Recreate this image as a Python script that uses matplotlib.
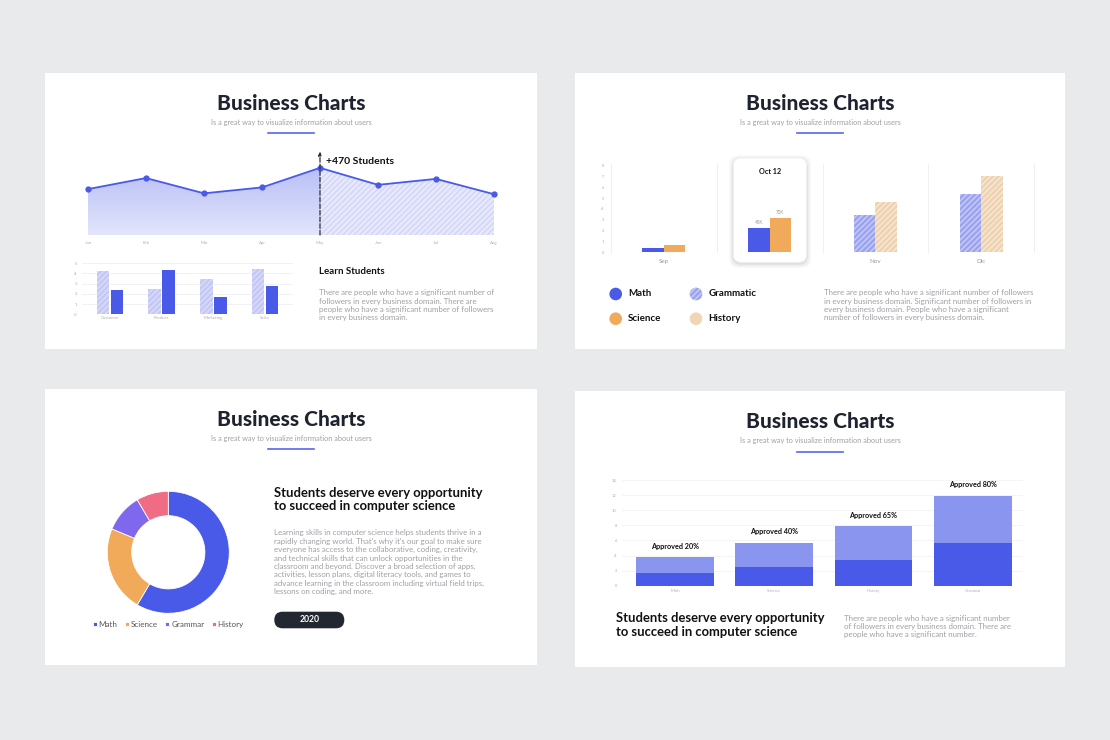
"""Four 'Business Charts' slide panels drawn on one canvas."""

import numpy as np
import matplotlib
matplotlib.use("Agg")
import matplotlib.pyplot as plt
from matplotlib.patches import Rectangle, FancyBboxPatch, Circle

W, H = 1110, 740
FONT = ["Lato", "DejaVu Sans"]
plt.rcParams["font.family"] = FONT
plt.rcParams["hatch.linewidth"] = 1.2

BLUE = "#4a5ae8"
LIGHT_BLUE = "#8a95f0"
ORANGE = "#f0aa5a"
PEACH = "#f1d6b5"
PURPLE = "#8068ee"
PINK = "#f06b84"
DARK = "#1f2330"
GREY = "#a0a0a6"

# panel 1 - area line
months = ["Jan", "Feb", "Mar", "Apr", "May", "Jun", "Jul", "Aug"]
students = [54, 67, 49, 56, 79, 59, 66, 48]
# panel 1 - small bars
depts = ["Customer", "Product", "Marketing", "Sales"]
dept_light = [4.25, 2.45, 3.43, 4.44]
dept_solid = [2.35, 4.35, 1.73, 2.75]
# panel 2 - grouped bars
periods = ["Sep", "Oct", "Nov", "Dic"]
series_a = [0.4, 2.28, 3.48, 5.38]
series_b = [0.68, 3.17, 4.62, 7.02]
oct_labels = ["45K", "70K"]
legend2 = ["Math", "Science", "Grammatic", "History"]
# panel 3 - donut
subjects = ["Math", "Science", "Grammar", "History"]
shares = [58.5, 22.75, 10.25, 8.5]
# panel 4 - stacked bars
courses = ["Math", "Science", "History", "Grammar"]
approved_base = [1.68, 2.47, 3.44, 5.65]
approved_top = [2.07, 3.18, 4.42, 6.27]
approved_pct = [20, 40, 65, 80]

fig = plt.figure(figsize=(W / 100, H / 100), dpi=100)
fig.patch.set_facecolor("#e9eaec")

bg = fig.add_axes([0, 0, 1, 1], zorder=-1)
bg.set_xlim(0, W)
bg.set_ylim(H, 0)
bg.axis("off")


def px_axes(x0, y0, x1, y1, **kw):
    ax = fig.add_axes([x0 / W, 1 - y1 / H, (x1 - x0) / W, (y1 - y0) / H], **kw)
    ax.set_facecolor("none")
    return ax


def header(cx, ty):
    bg.text(cx, ty, "Business Charts", ha="center", va="center", fontsize=15,
            fontweight="black", color=DARK)
    bg.text(cx, ty + 19, "Is a great way to visualize information about users", ha="center",
            va="center", fontsize=5.3, color=GREY)
    bg.plot([cx - 23, cx + 23], [ty + 30, ty + 30], color="#5866ec", lw=1.2)


def light_axes(ax, labelsize=3.2):
    for s in ax.spines.values():
        s.set_visible(False)
    ax.tick_params(length=0, labelsize=labelsize, labelcolor="#b0b0b4")


panels = [(45, 73, 537, 349), (575, 73, 1065, 349), (45, 389, 537, 665), (575, 391, 1065, 667)]
for x0, y0, x1, y1 in panels:
    bg.add_patch(Rectangle((x0, y0), x1 - x0, y1 - y0, facecolor="white", edgecolor="none"))

# ---------------- panel 1 ----------------
header(291, 103)
ax = px_axes(88, 150, 494, 235)
x = np.arange(len(months))
ax.set_xlim(0, len(months) - 1)
ax.set_ylim(0, 100)
peak = int(np.argmax(students))
area = ax.fill_between(x[:peak + 1], students[:peak + 1], 0, color="none")
grad = np.linspace(1, 0, 100).reshape(-1, 1)
im = ax.imshow(grad, extent=[0, peak, 0, 100], aspect="auto", origin="upper",
               cmap=matplotlib.colors.LinearSegmentedColormap.from_list("g", ["#e2e5fb", "#aeb5f5"]))
im.set_clip_path(area.get_paths()[0], transform=ax.transData)
ax.fill_between(x[peak:], students[peak:], 0, facecolor="#e8eafb", edgecolor="#d3d7f8",
                hatch="//////", linewidth=0)
ax.plot(x, students, color=BLUE, lw=1.3, marker="o", ms=3.5, clip_on=False)
ax.annotate("", xy=(peak, 98), xytext=(peak, 0), annotation_clip=False,
            arrowprops=dict(arrowstyle="-|>", ls="--", color="#2a2d36", lw=0.9, mutation_scale=5,
                            shrinkA=0, shrinkB=0))
ax.text(peak + 0.1, (235 - 161) / 85 * 100, "+470 Students", fontsize=7.5,
        fontweight="bold", color="#111", va="center")
ax.set_xticks(x, months)
ax.set_yticks([])
light_axes(ax, 3.2)
ax.tick_params(axis="x", pad=4)

ax = px_axes(81.7, 263.3, 293, 314.3)
xd = np.arange(len(depts))
ax.bar(xd - 0.135, dept_light, 0.245, facecolor="#d4d7f8", edgecolor="#c0c5f5", hatch="//////", lw=0)
ax.bar(xd + 0.135, dept_solid, 0.245, color=BLUE)
ax.set_xlim(-0.547, 3.54)
ax.set_ylim(0, 5)
ax.set_yticks(range(6))
ax.set_xticks(xd, depts)
ax.grid(axis="y", color="#f0f0f2", lw=0.6)
ax.set_axisbelow(True)
light_axes(ax, 3.2)
ax.tick_params(axis="x", pad=1.5)
bg.text(319, 271, "Learn Students", fontsize=7, fontweight="bold", color="#111", va="center")
bg.text(319, 289.5, "There are people who have a significant number of\nfollowers in every business domain. There are\n"
        "people who have a significant number of followers\nin every business domain.",
        fontsize=5.7, color=GREY, va="top", linespacing=1.18)

# ---------------- panel 2 ----------------
header(820, 103)
# highlight card for October
for grow, a in [(4, 0.03), (2.5, 0.04), (1, 0.05)]:
    bg.add_patch(FancyBboxPatch((733.3 - grow, 158 - grow + 1.5), 73.4 + 2 * grow, 104.3 + 2 * grow,
                                boxstyle="round,pad=0,rounding_size=9", facecolor="#000", alpha=a,
                                edgecolor="none"))
bg.add_patch(FancyBboxPatch((733.3, 158), 73.4, 104.3, boxstyle="round,pad=0,rounding_size=8",
                            facecolor="white", edgecolor="#f0f0f3", lw=0.5))
bg.text(770, 172, "Oct 12", ha="center", va="center", fontsize=5.2, fontweight="bold", color="#111")

ax = px_axes(610.7, 165.7, 1034.3, 252.3)
xp = np.arange(len(periods))
ax.set_xlim(-0.5, 3.5)
ax.set_ylim(0, 8)
for b in np.arange(-0.5, 4.0, 1):
    ax.axvline(b, color="#f0f0f2", lw=0.8, ymax=1.02, clip_on=False)
ax.bar(xp[:2] - 0.1, series_a[:2], 0.2, color=BLUE)
ax.bar(xp[:2] + 0.1, series_b[:2], 0.2, color=ORANGE)
ax.bar(xp[2:] - 0.1, series_a[2:], 0.2, facecolor="#9aa2ef", edgecolor="#c3c8f6", hatch="//////", lw=0)
ax.bar(xp[2:] + 0.1, series_b[2:], 0.2, facecolor="#eed2af", edgecolor="#f6e6d2", hatch="//////", lw=0)
ax.text(xp[1] - 0.1, series_a[1] + 0.25, oct_labels[0], ha="center", va="bottom", fontsize=3.3, color="#999")
ax.text(xp[1] + 0.1, series_b[1] + 0.25, oct_labels[1], ha="center", va="bottom", fontsize=3.3, color="#999")
ax.set_yticks(range(9))
ax.set_xticks([0, 2, 3], [periods[0], periods[2], periods[3]])
light_axes(ax, 3)
ax.tick_params(axis="x", labelsize=4.5, pad=5, labelcolor="#999")
ax.tick_params(axis="y", pad=5)

legend_pos = [(615.7, 294), (615.7, 318.7), (696, 294), (696, 318.7)]
legend_style = [dict(facecolor=BLUE), dict(facecolor=ORANGE),
                dict(facecolor="#9aa2ef", edgecolor="#c3c8f6", hatch="//////", lw=0),
                dict(facecolor=PEACH, edgecolor="none")]
for name, (cx, cy), st in zip(legend2, legend_pos, legend_style):
    st.setdefault("edgecolor", "none")
    bg.add_patch(Circle((cx, cy), 6.3, **st))
    bg.text(cx + 12.5, cy, name, fontsize=7, fontweight="bold", color="#111", va="center")
bg.text(824.3, 289.5, "There are people who have a significant number of followers\nin every business domain. "
        "Significant number of followers in\nevery business domain. People who have a significant\n"
        "number of followers in every business domain.",
        fontsize=5.7, color=GREY, va="top", linespacing=1.18)

# ---------------- panel 3 ----------------
header(291, 419)
ax = px_axes(168.3 - 61, 552.3 - 61, 168.3 + 61, 552.3 + 61)
wedges, _ = ax.pie(shares, colors=[BLUE, ORANGE, PURPLE, PINK], startangle=90, counterclock=False,
                   radius=1, wedgeprops=dict(width=0.4, edgecolor="white", linewidth=0.6))
ax.set_xlim(-1, 1)
ax.set_ylim(-1, 1)
ax.legend(wedges, subjects, ncol=4, frameon=False, loc="center", bbox_to_anchor=(0.5, -0.09),
          fontsize=5.8, handlelength=0.5, handleheight=0.5, handletextpad=0.25, columnspacing=0.9,
          labelcolor="#555")
bg.text(274, 487, "Students deserve every opportunity\nto succeed in computer science", fontsize=9.4,
        fontweight="bold", color="#111", va="top", linespacing=1.15)
bg.text(274, 529.5, "Learning skills in computer science helps students thrive in a\n"
        "rapidly changing world. That's why it's our goal to make sure\n"
        "everyone has access to the collaborative, coding, creativity,\n"
        "and technical skills that can unlock opportunities in the\n"
        "classroom and beyond. Discover a broad selection of apps,\n"
        "activities, lesson plans, digital literacy tools, and games to\n"
        "advance learning in the classroom including virtual field trips,\n"
        "lessons on coding, and more.", fontsize=5.7, color=GREY, va="top", linespacing=1.22)
bg.add_patch(FancyBboxPatch((274.3, 611.7), 70, 16.6, boxstyle="round,pad=0,rounding_size=8.3",
                            facecolor="#23272f", edgecolor="none"))
bg.text(309.3, 620, "2020", ha="center", va="center", fontsize=6.2, fontweight="bold", color="white")

# ---------------- panel 4 ----------------
header(820, 422)
ax = px_axes(621.7, 480, 1023.3, 585.7)
xc = np.arange(len(courses))
ax.bar(xc, approved_base, 0.785, color=BLUE)
ax.bar(xc, approved_top, 0.785, bottom=approved_base, color=LIGHT_BLUE)
for xi, b, t, p in zip(xc, approved_base, approved_top, approved_pct):
    ax.text(xi, b + t + 1.0, f"Approved {p}%", ha="center", va="bottom", fontsize=5.2,
            fontweight="bold", color="#111")
ax.set_xlim(-0.537, 3.51)
ax.set_ylim(0, 14)
ax.set_yticks(range(0, 15, 2))
ax.set_xticks(xc, courses)
ax.grid(axis="y", color="#f2f2f4", lw=0.6)
ax.set_axisbelow(True)
light_axes(ax, 3)
ax.tick_params(axis="x", pad=2.5)
bg.text(615.7, 612.5, "Students deserve every opportunity\nto succeed in computer science", fontsize=9.4,
        fontweight="bold", color="#111", va="top", linespacing=1.15)
bg.text(844.3, 614.8, "There are people who have a significant number\nof followers in every business domain. "
        "There are\npeople who have a significant number.", fontsize=5.7, color=GREY, va="top",
        linespacing=1.22)

fig.savefig("out.png", dpi=100, facecolor=fig.get_facecolor())
